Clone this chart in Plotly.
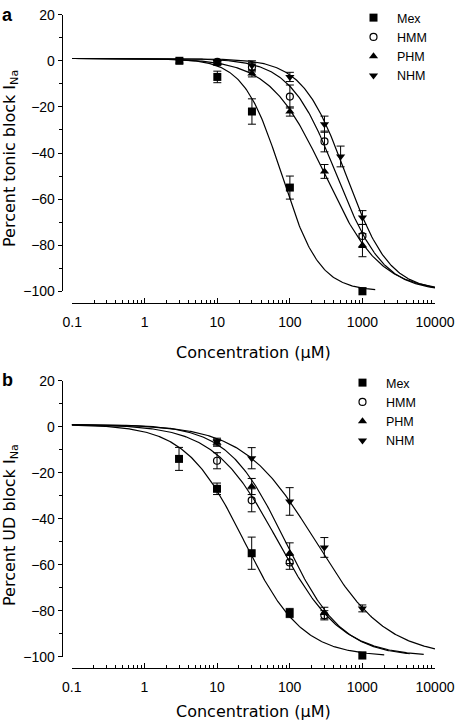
import numpy as np
import plotly.graph_objects as go

# ---------------- data: panel a (tonic block) ----------------
series_names = ["Mex", "HMM", "PHM", "NHM"]

conc_a_mex = [3, 10, 30, 100, 1000]
tonic_mex = [0, -7, -22, -55, -100]
tonic_mex_err = [1, 2.5, 5.5, 5, 1.5]

conc_a_hmm = [10, 30, 100, 300, 1000]
tonic_hmm = [-0.5, -2.8, -15.5, -35, -76]
tonic_hmm_err = [1, 2, 5, 4.5, 5]

conc_a_phm = [10, 30, 100, 300, 1000]
tonic_phm = [-1, -5.5, -22, -48, -80]
tonic_phm_err = [1, 1.5, 2, 3, 5]

conc_a_nhm = [10, 30, 100, 300, 500, 1000]
tonic_nhm = [-0.5, -2, -7, -27.5, -41.5, -68]
tonic_nhm_err = [1, 2, 2, 3.5, 4.5, 3]

# Hill fit parameters (IC50 in uM, Hill slope, upper end of fitted curve)
tonic_ic50 = [77, 440, 304, 594]
tonic_hill = [1.67, 1.35, 1.14, 1.45]
tonic_curve_end = [1500, 10000, 10000, 10000]

# ---------------- data: panel b (use-dependent block) ----------------
conc_b_mex = [3, 10, 30, 100, 1000]
ud_mex = [-14, -27, -55, -81, -99.5]
ud_mex_err = [5, 2.5, 7, 2, 1.5]

conc_b_hmm = [10, 30, 100, 300]
ud_hmm = [-14.8, -32, -59, -82]
ud_hmm_err = [3.5, 5, 3, 2]

conc_b_phm = [10, 30, 100, 300]
ud_phm = [-7, -26, -55, -81]
ud_phm_err = [1.5, 3.5, 4.5, 2.5]

conc_b_nhm = [10, 30, 100, 300, 1000]
ud_nhm = [-6.5, -13.7, -32.5, -52.5, -79]
ud_nhm_err = [1.5, 4.6, 6, 4.3, 1.5]

ud_ic50 = [23.4, 68, 86, 223]
ud_hill = [1.08, 0.99, 1.10, 0.88]
ud_curve_end = [2000, 7000, 4500, 10000]

fit_top = 1.0
fit_bottom = -100.0
curve_start = 0.1

tick_vals_x = [0.1, 1, 10, 100, 1000, 10000]
tick_text_x = ["0.1", "1", "10", "100", "1000", "10000"]
tick_vals_y = [20, 0, -20, -40, -60, -80, -100]

# ---------------- styling ----------------
W, H = 458, 720
TICKFONT = dict(family="Liberation Sans, Arial, sans-serif", size=14, color="black")
TITLEFONT = dict(family="DejaVu Sans, sans-serif", size=16, color="black")
LEGFONT = dict(family="Liberation Sans, Arial, sans-serif", size=12.5, color="black")

markers = [
    dict(symbol="square", size=8, color="black", line=dict(width=0)),
    dict(symbol="circle-open", size=7, color="black", line=dict(width=1.2, color="black")),
    dict(symbol="triangle-up", size=8, color="black", line=dict(width=0)),
    dict(symbol="triangle-down", size=8, color="black", line=dict(width=0)),
]


def px_x(p):
    return p / W


def px_y(p):
    return 1 - p / H


fig = go.Figure()


def hill(x, ic50, n):
    x = np.asarray(x, dtype=float)
    return fit_top + (fit_bottom - fit_top) / (1 + (ic50 / x) ** n)


def add_panel(xa, ya, legend, conc_list, val_list, err_list, ic50s, hills, ends):
    # fitted curves
    for ic50, n, end in zip(ic50s, hills, ends):
        xs = np.logspace(np.log10(curve_start), np.log10(end), 300)
        fig.add_trace(go.Scatter(
            x=xs, y=hill(xs, ic50, n), mode="lines",
            line=dict(color="black", width=1.2), showlegend=False,
            xaxis=xa, yaxis=ya, hoverinfo="skip", cliponaxis=False))
    # data points
    for name, mk, cx, vy, ey in zip(series_names, markers, conc_list, val_list, err_list):
        fig.add_trace(go.Scatter(
            x=cx, y=vy, mode="markers", name=name, marker=mk,
            error_y=dict(type="data", array=ey, visible=True, color="black",
                         thickness=1, width=4),
            xaxis=xa, yaxis=ya, legend=legend, cliponaxis=False))


add_panel("x", "y", "legend",
          [conc_a_mex, conc_a_hmm, conc_a_phm, conc_a_nhm],
          [tonic_mex, tonic_hmm, tonic_phm, tonic_nhm],
          [tonic_mex_err, tonic_hmm_err, tonic_phm_err, tonic_nhm_err],
          tonic_ic50, tonic_hill, tonic_curve_end)

add_panel("x2", "y2", "legend2",
          [conc_b_mex, conc_b_hmm, conc_b_phm, conc_b_nhm],
          [ud_mex, ud_hmm, ud_phm, ud_nhm],
          [ud_mex_err, ud_hmm_err, ud_phm_err, ud_nhm_err],
          ud_ic50, ud_hill, ud_curve_end)


def xaxis_cfg(x0, x1, ypos):
    return dict(
        type="log", range=[-1, 4], domain=[px_x(x0), px_x(x1)],
        anchor="free", position=px_y(ypos), automargin=False,
        showline=True, linecolor="black", linewidth=1,
        showgrid=False, zeroline=False,
        ticks="inside", ticklen=5, tickwidth=1, tickcolor="black",
        tickvals=tick_vals_x, ticktext=tick_text_x, tickfont=TICKFONT,
        ticklabelstandoff=6,
        minor=dict(ticks="inside", ticklen=3, tickwidth=1, tickcolor="black",
                   dtick="D1", showgrid=False),
    )


def yaxis_cfg(ytop, ybot, xpos):
    return dict(
        range=[-100, 20], domain=[px_y(ybot), px_y(ytop)],
        anchor="free", position=px_x(xpos), automargin=False,
        showline=True, linecolor="black", linewidth=1,
        showgrid=False, zeroline=False,
        ticks="outside", ticklen=4, tickwidth=1, tickcolor="black",
        tickvals=tick_vals_y, tickfont=TICKFONT,
        minor=dict(ticks="outside", ticklen=3, tickwidth=1, tickcolor="black",
                   dtick=10, showgrid=False),
    )


fig.update_layout(
    width=W, height=H, autosize=False,
    margin=dict(l=0, r=0, t=0, b=0, pad=0),
    paper_bgcolor="white", plot_bgcolor="white",
    xaxis=xaxis_cfg(72.2, 435, 303.3),
    yaxis=yaxis_cfg(14.7, 291.3, 61.7),
    xaxis2=xaxis_cfg(71.7, 435, 668.3),
    yaxis2=yaxis_cfg(380.7, 656.7, 61.7),
    legend=dict(x=px_x(350), y=px_y(3), xanchor="left", yanchor="top",
                font=LEGFONT, bgcolor="rgba(0,0,0,0)", borderwidth=0,
                tracegroupgap=0, itemwidth=37),
    legend2=dict(x=px_x(339), y=px_y(368), xanchor="left", yanchor="top",
                 font=LEGFONT, bgcolor="rgba(0,0,0,0)", borderwidth=0,
                 tracegroupgap=0, itemwidth=37),
    showlegend=True,
)

annotations = [
    dict(text="a", x=px_x(7), y=px_y(15), font=dict(family="Liberation Sans, Arial", size=18, color="black", weight="bold")),
    dict(text="b", x=px_x(7), y=px_y(380), font=dict(family="Liberation Sans, Arial", size=18, color="black", weight="bold")),
    dict(text="Percent tonic block I<sub>Na</sub>", x=px_x(10), y=px_y(159), textangle=-90, font=TITLEFONT),
    dict(text="Percent UD block I<sub>Na</sub>", x=px_x(10), y=px_y(525), textangle=-90, font=TITLEFONT),
    dict(text="Concentration (μM)", x=px_x(253), y=px_y(352), font=TITLEFONT),
    dict(text="Concentration (μM)", x=px_x(253), y=px_y(711), font=TITLEFONT),
]
for a in annotations:
    a.update(xref="paper", yref="paper", xanchor="center", yanchor="middle", showarrow=False)
fig.update_layout(annotations=annotations)

fig.write_html(
    "out.html",
    config={"displayModeBar": False},
    post_script="document.body.style.margin='0';document.body.style.padding='0';",
)
